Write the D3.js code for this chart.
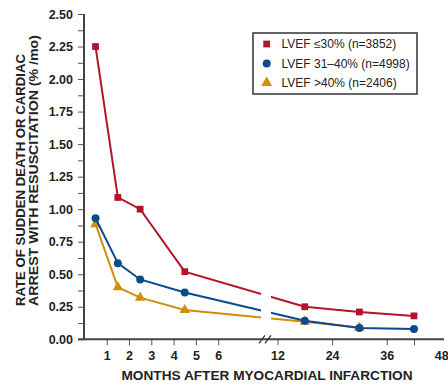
<!DOCTYPE html>
<html><head><meta charset="utf-8">
<script src="https://cdn.jsdelivr.net/npm/d3@7"></script>
<style>
body{margin:0;background:#fff;}
svg{display:block;font-family:"Liberation Sans",Arial,Helvetica,sans-serif;}
</style></head>
<body><svg id="c" width="448" height="385"></svg>
<script>
const months = [0.5, 1.5, 2.5, 4.5, 18, 30, 42];
const lvefLow = [2.25, 1.09, 1.00, 0.52, 0.25, 0.21, 0.18];
const lvefMid = [0.93, 0.585, 0.46, 0.36, 0.143, 0.087, 0.08];
const lvefHigh = [0.885, 0.40, 0.32, 0.225, 0.135, 0.09];
const seriesNames = ["LVEF \u226430% (n=3852)", "LVEF 31\u201340% (n=4998)", "LVEF >40% (n=2406)"];
const xTickValues = [1, 2, 3, 4, 5, 6, 12, 24, 36, 42];
const xLabelValues = [1, 2, 3, 4, 5, 6, 12, 24, 36, 48];
const yMajor = [0, 0.25, 0.5, 0.75, 1, 1.25, 1.5, 1.75, 2, 2.25, 2.5];
const yMinor = [0.125, 0.375, 0.625, 0.875, 1.125, 1.375, 1.625, 1.875, 2.125, 2.375];

const colors = {low: "#b2142c", mid: "#0c4a8e", high: "#d18e0e"};
const svg = d3.select("#c");
const x = d3.scaleLinear().domain([0, 6, 12, 48]).range([84.4, 218.2, 277.5, 441.3]);
const y = d3.scaleLinear().domain([0, 2.5]).range([339.3, 14]);
const axisX = 84, axisY = 339.3;

// Y axis
const gy = svg.append("g").attr("transform", `translate(${axisX},0)`);
gy.call(d3.axisLeft(y).tickValues(yMajor).tickSize(6).tickPadding(5).tickFormat(d3.format(".2f")));
const gy2 = svg.append("g").attr("transform", `translate(${axisX},0)`);
gy2.call(d3.axisLeft(y).tickValues(yMinor).tickSize(6).tickFormat(""));
[gy, gy2].forEach(g => {
  g.select(".domain").remove();
  g.selectAll(".tick line").attr("stroke", "#555").attr("stroke-width", 1);
});
gy.selectAll(".tick text").attr("font-size", 12.5).attr("font-weight", "bold").attr("fill", "#222");
svg.append("line").attr("x1", axisX).attr("x2", axisX).attr("y1", y(2.5)).attr("y2", axisY)
  .attr("stroke", "#444").attr("stroke-width", 2);

// X axis
const gx = svg.append("g").attr("transform", `translate(0,${axisY})`);
gx.call(d3.axisBottom(x).tickValues(xTickValues).tickSize(6).tickFormat(""));
gx.select(".domain").remove();
gx.selectAll(".tick line").attr("stroke", "#555").attr("stroke-width", 1);
const gxl = svg.append("g").attr("transform", `translate(0,${axisY})`);
gxl.call(d3.axisBottom(x).tickValues(xLabelValues).tickSize(0).tickPadding(12).tickFormat(d3.format("d")));
gxl.select(".domain").remove();
gxl.selectAll(".tick text").attr("font-size", 12.5).attr("font-weight", "bold").attr("fill", "#222");
svg.append("line").attr("x1", 78).attr("x2", 444).attr("y1", axisY).attr("y2", axisY)
  .attr("stroke", "#444").attr("stroke-width", 2);
// axis break marks
const brk = svg.append("g");
[262, 268].forEach(bx => {
  brk.append("line").attr("x1", bx - 3).attr("y1", axisY + 4).attr("x2", bx + 3).attr("y2", axisY - 4)
    .attr("stroke", "#333").attr("stroke-width", 1.3);
});

// clip for line break
const defs = svg.append("defs");
const cp = defs.append("clipPath").attr("id", "brk");
cp.append("rect").attr("x", 0).attr("y", 0).attr("width", 261).attr("height", 385);
cp.append("rect").attr("x", 271).attr("y", 0).attr("width", 200).attr("height", 385);

const line = d3.line().x(d => x(d[0])).y(d => y(d[1]));
function series(vals, col, shape) {
  const pts = vals.map((v, i) => [months[i], v]);
  svg.append("path").datum(pts).attr("d", line).attr("fill", "none")
    .attr("stroke", col).attr("stroke-width", 2).attr("clip-path", "url(#brk)");
  const sym = d3.symbol().type(shape).size(shape === d3.symbolSquare ? 46 : shape === d3.symbolCircle ? 50 : 48);
  svg.append("g").selectAll("path").data(pts).join("path")
    .attr("transform", d => `translate(${x(d[0])},${y(d[1])})`)
    .attr("d", sym).attr("fill", col);
}
series(lvefHigh, colors.high, d3.symbolTriangle);
series(lvefMid, colors.mid, d3.symbolCircle);
series(lvefLow, colors.low, d3.symbolSquare);

// legend
const lg = svg.append("g");
lg.append("rect").attr("x", 253).attr("y", 33).attr("width", 164).attr("height", 61)
  .attr("fill", "#fff").attr("stroke", "#333").attr("stroke-width", 1.5);
const legItems = [
  {name: seriesNames[0], col: colors.low, shape: d3.symbolSquare, size: 46},
  {name: seriesNames[1], col: colors.mid, shape: d3.symbolCircle, size: 50},
  {name: seriesNames[2], col: colors.high, shape: d3.symbolTriangle, size: 52}
];
legItems.forEach((it, i) => {
  const cy = 44 + i * 19.4;
  lg.append("path").attr("transform", `translate(266.7,${cy})`)
    .attr("d", d3.symbol().type(it.shape).size(it.size)).attr("fill", it.col);
  lg.append("text").attr("x", 281.5).attr("y", cy).attr("dy", "0.35em")
    .attr("font-size", 12).attr("fill", "#222").text(it.name);
});

// axis titles
svg.append("text").attr("x", 267).attr("y", 380).attr("text-anchor", "middle")
  .attr("font-size", 13.5).attr("font-weight", "bold").attr("fill", "#222")
  .attr("textLength", 291).attr("lengthAdjust", "spacingAndGlyphs")
  .text("MONTHS AFTER MYOCARDIAL INFARCTION");
const yt = svg.append("text").attr("transform", "translate(25,306) rotate(-90)")
  .attr("text-anchor", "start").attr("font-size", 13.2).attr("font-weight", "bold").attr("fill", "#222");
yt.append("tspan").attr("x", 0).attr("y", 0).attr("textLength", 252).attr("lengthAdjust", "spacingAndGlyphs")
  .text("RATE OF SUDDEN DEATH OR CARDIAC");
yt.append("tspan").attr("x", 0).attr("y", 12.8).attr("textLength", 271).attr("lengthAdjust", "spacingAndGlyphs")
  .text("ARREST WITH RESUSCITATION (% /mo)");
</script></body></html>
